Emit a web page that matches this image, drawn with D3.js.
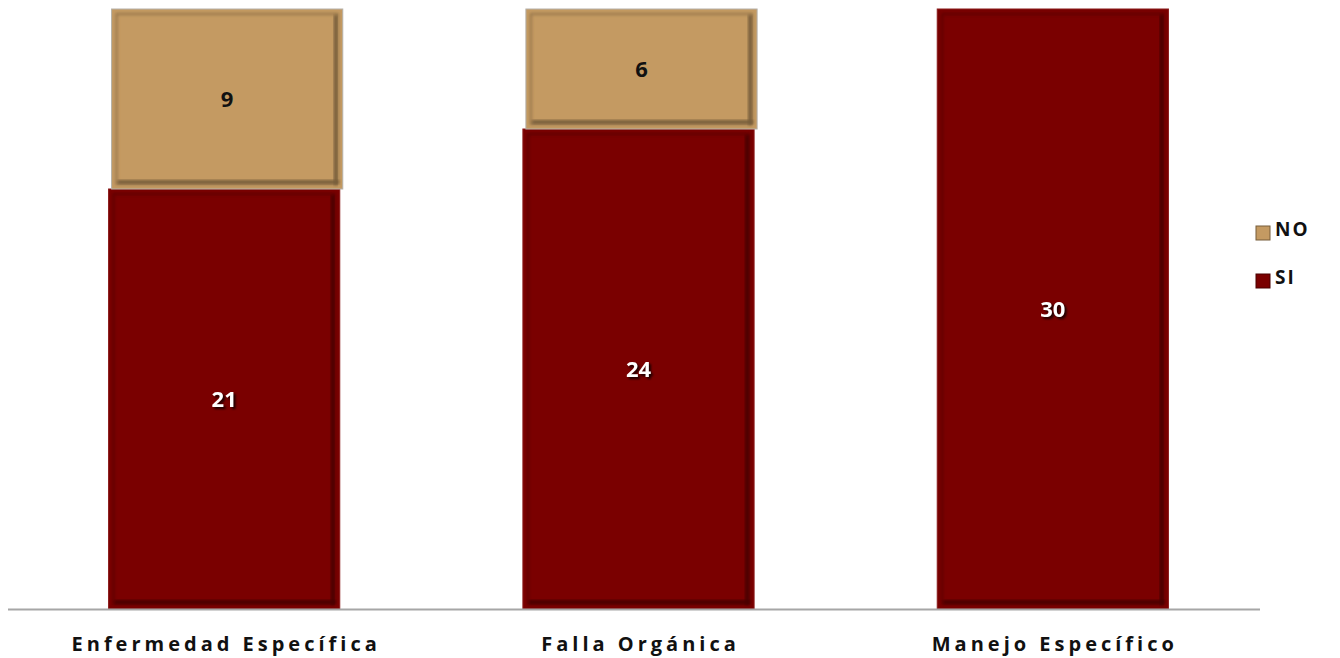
<!doctype html>
<html>
<head>
<meta charset="utf-8">
<script src="https://d3js.org/d3.v7.min.js"></script>
<style>
  body { margin: 0; background: #fff; }
  text { font-family: "Open Sans", "DejaVu Sans", sans-serif; font-weight: bold; }
</style>
</head>
<body>
<div id="chart"></div>
<script>
// data
var categories = ["Enfermedad Específica", "Falla Orgánica", "Manejo Específico"];
var siValues = [21, 24, 30];
var noValues = [9, 6, 0];
var seriesNames = ["SI", "NO"];
var seriesColors = ["#7a0000", "#c49a62"];

var width = 1340, height = 658;
var svg = d3.select("#chart").append("svg")
    .attr("width", width)
    .attr("height", height);

// soft blur for the bevel edges
var defs = svg.append("defs");
var f = defs.append("filter").attr("id", "bevel")
    .attr("x", "-5%").attr("y", "-5%").attr("width", "110%").attr("height", "110%");
f.append("feGaussianBlur").attr("stdDeviation", 1.5);

var x = d3.scaleBand()
    .domain(categories)
    .range([17, 1260])
    .paddingInner(0.442)
    .paddingOuter(0.221);

var y = d3.scaleLinear()
    .domain([0, 30])
    .range([609, 9]);

var rows = categories.map(function(c, i) {
  return { cat: c, SI: siValues[i], NO: noValues[i] };
});
var stack = d3.stack().keys(seriesNames)(rows);

var layers = svg.append("g").selectAll("g")
  .data(stack)
  .enter().append("g");

var segs = layers.selectAll("g.seg")
  .data(function(d, i) { return d.filter(function(s) { return s[1] - s[0] > 0; }).map(function(s) { s.k = i; return s; }); })
  .enter().append("g").attr("class", "seg");

function base(k) { return seriesColors[k]; }
function dark(k) { return d3.color(seriesColors[k]).darker(1.4); }
function bx(d) { return x(d.data.cat) + (d.k ? 3 : 0); }
function bh(d) { return y(d[0]) - y(d[1]); }

// outer rim
segs.append("rect")
  .attr("x", bx)
  .attr("y", function(d) { return y(d[1]); })
  .attr("width", x.bandwidth())
  .attr("height", bh)
  .attr("fill", function(d) { return base(d.k); })
  .attr("stroke", function(d) { return d.k ? "#b5b0a8" : "#8a1a1a"; })
  .attr("stroke-width", 1);

// inner bevel frame
segs.append("rect")
  .attr("x", function(d) { return bx(d) + 5; })
  .attr("y", function(d) { return y(d[1]) + 5; })
  .attr("width", x.bandwidth() - 10)
  .attr("height", function(d) { return bh(d) - 10; })
  .attr("fill", "none")
  .attr("stroke", function(d) { return dark(d.k); })
  .attr("stroke-width", 2)
  .attr("stroke-opacity", 0.6)
  .attr("filter", "url(#bevel)");

// darker right and bottom edges
segs.append("rect")
  .attr("x", function(d) { return bx(d) + x.bandwidth() - 9; })
  .attr("y", function(d) { return y(d[1]) + 6; })
  .attr("width", 4)
  .attr("height", function(d) { return bh(d) - 10; })
  .attr("fill", function(d) { return dark(d.k); })
  .attr("filter", "url(#bevel)");
segs.append("rect")
  .attr("x", function(d) { return bx(d) + 6; })
  .attr("y", function(d) { return y(d[0]) - 9; })
  .attr("width", x.bandwidth() - 10)
  .attr("height", 4)
  .attr("fill", function(d) { return dark(d.k); })
  .attr("filter", "url(#bevel)");

// face
segs.append("rect")
  .attr("x", function(d) { return bx(d) + 9; })
  .attr("y", function(d) { return y(d[1]) + 9; })
  .attr("width", x.bandwidth() - 19)
  .attr("height", function(d) { return bh(d) - 19; })
  .attr("fill", function(d) { return base(d.k); });

// value labels
segs.append("text")
  .attr("x", function(d) { return bx(d) + x.bandwidth() / 2; })
  .attr("y", function(d) { return (y(d[0]) + y(d[1])) / 2; })
  .attr("dy", "0.36em")
  .attr("text-anchor", "middle")
  .style("font-size", "22px")
  .attr("fill", function(d) { return d.k ? "#111" : "#fff"; })
  .style("filter", function(d) { return d.k ? null : "drop-shadow(2px 2px 1px #1a0000)"; })
  .text(function(d) { return d[1] - d[0]; });

// baseline
svg.append("line")
  .attr("x1", 8).attr("x2", 1260)
  .attr("y1", y(0) + 0.5).attr("y2", y(0) + 0.5)
  .attr("stroke", "#a6a6a6").attr("stroke-width", 2);

// category labels
svg.append("g").selectAll("text")
  .data(categories)
  .enter().append("text")
  .attr("x", function(d) { return x(d) + x.bandwidth() / 2 + 2; })
  .attr("y", 651)
  .attr("text-anchor", "middle")
  .style("font-size", "20px")
  .style("letter-spacing", "4px")
  .attr("fill", "#111")
  .text(function(d) { return d; });

// legend
var legend = svg.append("g").selectAll("g")
  .data(["NO", "SI"])
  .enter().append("g")
  .attr("transform", function(d, i) { return "translate(1256," + (226 + i * 48) + ")"; });
legend.append("rect")
  .attr("width", 14).attr("height", 14)
  .attr("fill", function(d) { return seriesColors[seriesNames.indexOf(d)]; })
  .attr("stroke", function(d) { return dark(seriesNames.indexOf(d)); });
legend.append("text")
  .attr("x", 19).attr("y", 10)
  .style("font-size", "19px")
  .style("letter-spacing", "2px")
  .attr("fill", "#111")
  .text(function(d) { return d; });
</script>
</body>
</html>
